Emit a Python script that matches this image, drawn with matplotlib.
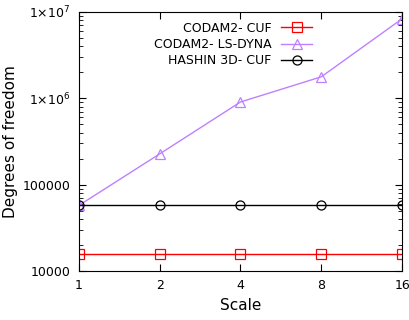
import numpy as np
import matplotlib.pyplot as plt
from matplotlib.ticker import FixedLocator, FixedFormatter, LogLocator, NullFormatter

# data
scale = [1, 2, 4, 8, 16]
codam_cuf = [15700, 15700, 15700, 15700, 15700]
codam_lsdyna = [57500, 227000, 905000, 1770000, 8300000]
hashin_cuf = [58000, 58000, 58000, 58000, 58000]

fig = plt.figure(figsize=(4.09, 3.2), dpi=100)
ax = fig.add_axes([0.193, 0.153, 0.790, 0.810])

ax.plot(scale, codam_cuf, color='#ff0000', lw=1, marker='s', ms=6.5, mfc='none', mew=0.9,
        label='CODAM2- CUF')
ax.plot(scale, codam_lsdyna, color='#bf80ff', lw=1, marker='^', ms=7, mfc='none', mew=0.9,
        label='CODAM2- LS-DYNA')
ax.plot(scale, hashin_cuf, color='black', lw=1, marker='o', ms=6.5, mfc='none', mew=0.9,
        label='HASHIN 3D- CUF')

ax.set_xscale('log', base=2)
ax.set_yscale('log')
ax.set_xlim(1, 16)
ax.set_ylim(1e4, 1e7)

ax.xaxis.set_major_locator(FixedLocator(scale))
ax.xaxis.set_major_formatter(FixedFormatter([str(s) for s in scale]))
ax.xaxis.set_minor_locator(FixedLocator([]))
ax.yaxis.set_major_locator(FixedLocator([1e4, 1e5, 1e6, 1e7]))
ax.yaxis.set_major_formatter(FixedFormatter(['10000', '100000', r'1$\times$10$^6$', r'1$\times$10$^7$']))
ax.yaxis.set_minor_locator(LogLocator(base=10, subs=np.arange(2, 10)))
ax.yaxis.set_minor_formatter(NullFormatter())

ax.tick_params(axis='both', which='both', direction='in', top=True, right=True, labelsize=9)
ax.tick_params(axis='both', which='major', length=5, pad=6)
ax.tick_params(axis='both', which='minor', length=3)

ax.set_xlabel('Scale', size=11)
ax.set_ylabel('Degrees of freedom', size=11)
ax.yaxis.set_label_coords(-0.19, 0.5)

ax.legend(loc='upper left', bbox_to_anchor=(0.2, 1.0), frameon=False, markerfirst=False,
          fontsize=9, handlelength=2.5, labelspacing=0.25, borderaxespad=0.4)
leg = ax.get_legend()
for t in leg.get_texts():
    t.set_ha('right')
leg._legend_box.align = 'right'

plt.savefig('out.png', dpi=100)
